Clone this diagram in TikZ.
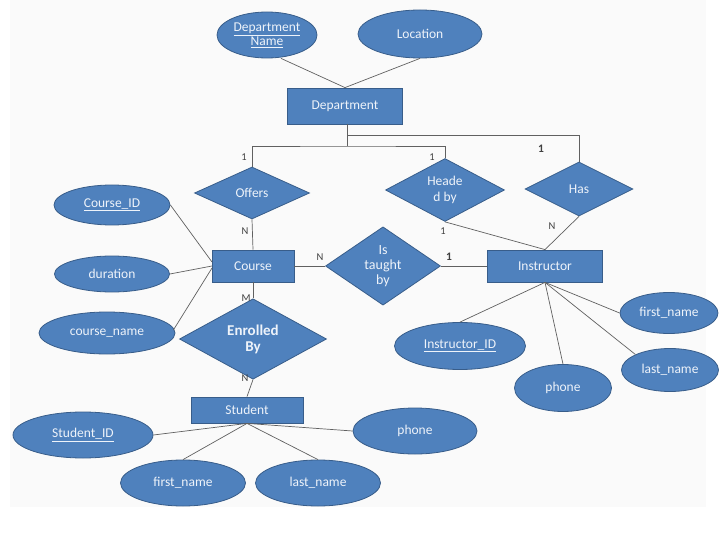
\documentclass[tikz,border=0pt]{standalone}
\usepackage{fontspec}
\setmainfont{Carlito}
\usetikzlibrary{shapes.geometric}
\definecolor{erfill}{HTML}{4F81BD}
\definecolor{erdraw}{HTML}{385D8A}
\definecolor{ertext}{HTML}{EEF3FA}
\definecolor{erline}{HTML}{606060}
\definecolor{bgpage}{HTML}{FAFAFA}
\tikzset{
  base/.style={fill=erfill, draw=erdraw, line width=0.8pt, text=ertext, inner sep=0pt, align=center, font=\fontsize{13.5}{15}\selectfont},
  ent/.style={base, rectangle},
  attr/.style={base, ellipse},
  rel/.style={base, diamond},
  conn/.style={draw=erline, line width=0.7pt},
  card/.style={text=black!75, font=\fontsize{10.5}{12}\selectfont, inner sep=0pt}
}
\begin{document}
\begin{tikzpicture}[x=1pt,y=-1pt]
\useasboundingbox (0,0) rectangle (720,540);
\fill[bgpage] (10,0) rectangle (706,507);

% Department
\node[ent, minimum width=115, minimum height=36] (dept) at (345,106) {Department};
\node[attr, minimum width=100, minimum height=46] (dname) at (267,35) {\underline{Department}\\[-1pt]\underline{Name}};
\node[attr, minimum width=124, minimum height=48] (loc) at (420,34) {Location};
\draw[conn] (dname.south) ++(14,0) coordinate (dn1) -- (dept.north);
\draw[conn] (loc.south) -- (dept.north);

% relationships from department
\node[rel, minimum width=115, minimum height=52] (offers) at (252,193) {Offers};
\node[rel, minimum width=119, minimum height=57] (headed) at (445,190) {Heade\\[1pt]d by};
\node[rel, minimum width=108, minimum height=54] (has) at (579,189) {Has};

\coordinate (b1) at (347,146);
\coordinate (b2) at (347,135);
\draw[conn] (dept.south -| b1) -- (b1);
\draw[conn] (b2) -| (has.north);
\draw[conn] (offers.north) |- (b1) -| (headed.north);

\node[card] (c1) at (244,157) {1};
\node[card] (c2) at (432,157) {1};
\node[card, font=\fontsize{11.5}{13}\selectfont\bfseries] (c3) at (541,149) {1};

% Course
\node[ent, minimum width=82, minimum height=32] (course) at (253,266) {Course};
\node[attr, minimum width=116, minimum height=40] (cid) at (112,205) {\underline{Course\_ID}};
\node[attr, minimum width=115, minimum height=36] (dur) at (112,274) {duration};
\node[attr, minimum width=136, minimum height=42] (cname) at (107,333) {course\_name};
\coordinate (cl1) at (212,262);
\coordinate (cl2) at (212,266);
\coordinate (cl3) at (212,268);
\draw[conn] (cid.east) -- (cl1);
\draw[conn] (dur.east) -- (cl2);
\draw[conn] (cname.east) ++(-2,-3) coordinate (cn1) -- (cl3);
\draw[conn] (offers.south) -- (course.north);
\node[card] (c4) at (245,231) {N};

% Enrolled By
\node[rel, minimum width=147, minimum height=52, font=\fontsize{15}{16}\selectfont\bfseries] (enr) at (253,339) {Enrolled\\By};
\draw[conn] (course.south) -- (enr.north);
\node[card] (c5) at (246,298) {M};

% Student
\node[ent, minimum width=112, minimum height=26] (stud) at (247,410) {Student};
\draw[conn] (enr.south) -- (stud.north);
\node[card] (c6) at (245,378) {N};
\node[attr, minimum width=140, minimum height=46] (sid) at (83,435) {\underline{Student\_ID}};
\node[attr, minimum width=125, minimum height=46] (sfn) at (183,483) {first\_name};
\node[attr, minimum width=125, minimum height=46] (sln) at (318,483) {last\_name};
\node[attr, minimum width=124, minimum height=46] (sph) at (415,431) {phone};
\draw[conn] (stud.south) -- (sid.east);
\draw[conn] (stud.south) -- (sfn.north);
\draw[conn] (stud.south) -- (sln.north);
\draw[conn] (stud.south) -- (sph.west);

% Is taught by
\node[rel, minimum width=115, minimum height=63, font=\fontsize{14}{15}\selectfont] (taught) at (383,266) {Is\\taught\\by};
\draw[conn] (course.east) -- (taught.west);
\node[card] (c7) at (320,257) {N};

% Instructor
\node[ent, minimum width=115, minimum height=32] (inst) at (545,266) {Instructor};
\draw[conn] (taught.east) -- (inst.west);
\node[card, font=\fontsize{11.5}{13}\selectfont\bfseries] (c8) at (449,257) {1};
\draw[conn] (headed.south) -- (inst.north);
\draw[conn] (has.south) -- (inst.north);
\node[card] (c9) at (443,231) {1};
\node[card] (c10) at (552,226) {N};

\node[attr, minimum width=131, minimum height=47] (iid) at (460,346) {\underline{Instructor\_ID}};
\node[attr, minimum width=97, minimum height=47] (iph) at (563,388) {phone};
\node[attr, minimum width=98, minimum height=41] (ifn) at (669,313) {first\_name};
\node[attr, minimum width=97, minimum height=43] (iln) at (670,370) {last\_name};
\draw[conn] (inst.south) -- (iid.north);
\draw[conn] (inst.south) -- (iph.north);
\draw[conn] (inst.south) -- (ifn.west);
\draw[conn] (inst.south) -- (iln.north west);
\end{tikzpicture}
\end{document}
